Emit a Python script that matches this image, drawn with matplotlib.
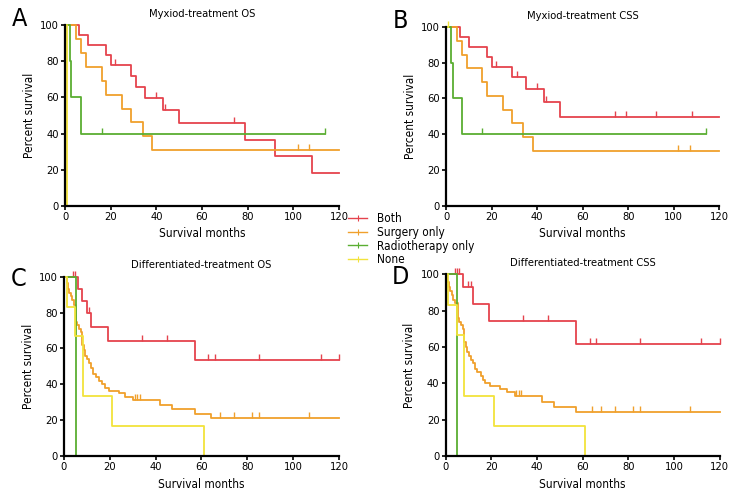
import numpy as np
import matplotlib
matplotlib.use("Agg")
import matplotlib.pyplot as plt
from matplotlib.lines import Line2D

plt.rcParams['font.family'] = ['DejaVu Sans']
plt.rcParams['font.stretch'] = 'condensed'

groups = ["Both", "Surgery only", "Radiotherapy only", "None"]
colors = ["#e5434d", "#f0a02c", "#5aae32", "#f2e33c"]

# Panel A: Myxiod-treatment OS  (step times, survival %, censor times)
a_both_t = [0, 6, 10, 18, 20, 29, 31, 35, 43, 50, 79, 92, 108, 120]
a_both_s = [100, 94.4, 88.9, 83.3, 77.8, 71.8, 65.8, 59.8, 53.2, 45.6, 36.5, 27.4, 18.2, 18.2]
a_both_c = [22, 40, 44, 74]
a_surg_t = [0, 5, 7, 9, 16, 18, 25, 29, 34, 38, 120]
a_surg_s = [100, 92.3, 84.6, 76.9, 69.2, 61.5, 53.8, 46.2, 38.5, 30.8, 30.8]
a_surg_c = [102, 107]
a_radio_t = [0, 2.2, 2.8, 7, 114]
a_radio_s = [100, 80, 60, 40, 40]
a_radio_c = [16, 114]
a_none_t = [0, 1]
a_none_s = [100, 0]
a_none_c = []

# Panel B: Myxiod-treatment CSS
b_both_t = [0, 6, 10, 18, 20, 29, 35, 43, 50, 120]
b_both_s = [100, 94.4, 88.9, 83.3, 77.8, 71.8, 65.3, 58.0, 49.7, 49.7]
b_both_c = [22, 31, 40, 44, 74, 79, 92, 108]
b_surg_t = [0, 5, 7, 9, 16, 18, 25, 29, 34, 38, 120]
b_surg_s = [100, 92.3, 84.6, 76.9, 69.2, 61.5, 53.8, 46.2, 38.5, 30.8, 30.8]
b_surg_c = [102, 107]
b_radio_t = [0, 2.2, 3, 7, 114]
b_radio_s = [100, 80, 60, 40, 40]
b_radio_c = [16, 114]
b_none_t = [0, 1]
b_none_s = [100, 100]
b_none_c = [1]

# Panel C: Differentiated-treatment OS
c_both_t = [0, 6, 8, 10, 12, 19, 57, 120]
c_both_s = [100, 93.3, 86.7, 80, 72.2, 64.3, 53.6, 53.6]
c_both_c = [4, 5, 11, 34, 45, 63, 66, 85, 112, 120]
c_surg_t = [0, 1.2, 1.9, 2.3, 3, 3.6, 4.4, 5.2, 5.8, 6.5, 7.4, 8, 8.7, 9.3, 10, 11, 12,
            12.6, 13.8, 15.3, 16.4, 17.7, 19.8, 24.1, 26.8, 30.3, 42, 47, 57, 64, 120]
c_surg_s = [100, 96.3, 93, 91, 89, 87, 84, 75, 73, 71, 69, 62, 59, 56, 54, 52, 49,
            46, 44, 42, 40, 38, 36.5, 35, 33, 31, 28.5, 26, 23.5, 21, 21]
c_surg_c = [31, 32, 33, 68, 74, 82, 85, 107]
c_radio_t = [0, 5.2]
c_radio_s = [100, 0]
c_radio_c = []
c_none_t = [0, 1.2, 4.8, 8.2, 21, 61]
c_none_s = [100, 83.3, 66.7, 33.3, 16.7, 0]
c_none_c = []

# Panel D: Differentiated-treatment CSS
d_both_t = [0, 7.8, 12, 19, 57, 120]
d_both_s = [100, 92.9, 83.6, 74.3, 61.9, 61.9]
d_both_c = [4, 5, 6, 10, 11, 34, 45, 63, 66, 85, 112, 120]
d_surg_t = [0, 0.7, 1.5, 2, 2.8, 3.4, 4.1, 5.4, 6, 6.6, 7.4, 8.2, 8.8, 9.3, 10.2, 11, 12,
            12.8, 13.9, 15.3, 16.4, 17.4, 19.6, 23.6, 26.9, 30.2, 42.2, 47.3, 57, 120]
d_surg_s = [100, 96, 93, 91, 88.5, 86, 84, 76, 74, 72, 70, 63, 60, 57, 55, 53, 51,
            48, 46, 44, 42, 40, 38.5, 37, 35, 33, 30, 27, 24.5, 24.5]
d_surg_c = [31, 32, 33, 64, 68, 74, 82, 85, 107]
d_radio_t = [0, 5]
d_radio_s = [100, 0]
d_radio_c = []
d_none_t = [0, 1, 5.1, 8, 21, 61]
d_none_s = [100, 83.3, 66.7, 33.3, 16.7, 0]
d_none_c = []

panels = [
    ("A", "Myxiod-treatment OS", [0.0874, 0.5919, 0.3683, 0.3579], 0.012,
     [(a_both_t, a_both_s, a_both_c), (a_surg_t, a_surg_s, a_surg_c),
      (a_radio_t, a_radio_s, a_radio_c), (a_none_t, a_none_s, a_none_c)]),
    ("B", "Myxiod-treatment CSS", [0.5995, 0.5919, 0.3673, 0.3545], 0.012,
     [(b_both_t, b_both_s, b_both_c), (b_surg_t, b_surg_s, b_surg_c),
      (b_radio_t, b_radio_s, b_radio_c), (b_none_t, b_none_s, b_none_c)]),
    ("C", "Differentiated-treatment OS", [0.0860, 0.0952, 0.3696, 0.3558], -0.004,
     [(c_both_t, c_both_s, c_both_c), (c_surg_t, c_surg_s, c_surg_c),
      (c_radio_t, c_radio_s, c_radio_c), (c_none_t, c_none_s, c_none_c)]),
    ("D", "Differentiated-treatment CSS", [0.5990, 0.0952, 0.3683, 0.3605], -0.006,
     [(d_both_t, d_both_s, d_both_c), (d_surg_t, d_surg_s, d_surg_c),
      (d_radio_t, d_radio_s, d_radio_c), (d_none_t, d_none_s, d_none_c)]),
]


def surv_at(t, s, x):
    idx = np.searchsorted(np.array(t), x, side='right') - 1
    return np.array(s)[idx]


fig = plt.figure(figsize=(7.44, 5.04), dpi=100)

for letter, title, rect, dy, series in panels:
    ax = fig.add_axes(rect)
    for (t, s, c), col in zip(series, colors):
        ax.step(t, s, where='post', color=col, lw=1.3, clip_on=False)
        if len(c):
            ax.plot(c, surv_at(t, s, c), ls='none', marker=2, ms=4, mew=1.0,
                    color=col, clip_on=False)
    ax.set_xlim(0, 120)
    ax.set_ylim(0, 100)
    ax.set_xticks(np.arange(0, 121, 20))
    ax.set_yticks(np.arange(0, 101, 20))
    for side in ("top", "right"):
        ax.spines[side].set_visible(False)
    for side in ("left", "bottom"):
        ax.spines[side].set_linewidth(1.6)
    ax.tick_params(direction='out', length=3, width=1.2, labelsize=8, pad=1.5)
    ax.set_title(title, fontsize=8, pad=6)
    ax.set_xlabel("Survival months", fontsize=8.5, labelpad=4)
    ax.set_ylabel("Percent survival", fontsize=8.5, labelpad=3)
    fig.text(rect[0] - 0.072, rect[1] + rect[3] + dy, letter, fontsize=18,
             ha='left', va='center')

handles = [Line2D([0], [0], color=col, lw=1.0, marker='|', ms=4, mew=0.8)
           for col in colors]
fig.legend(handles, groups, loc='upper left', bbox_to_anchor=(0.462, 0.588),
           frameon=False, fontsize=8.5, handlelength=1.6, handletextpad=0.8,
           labelspacing=0.05, borderaxespad=0)

fig.savefig("out.png", dpi=100)
